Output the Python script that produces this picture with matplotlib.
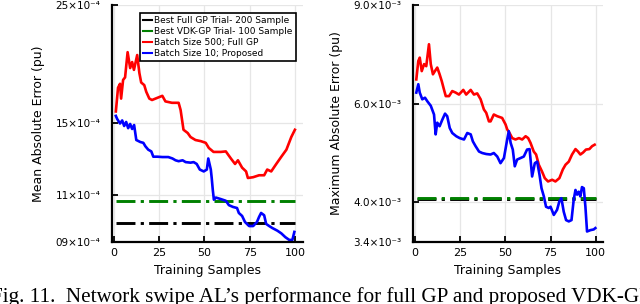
import matplotlib
matplotlib.use("Agg")
import matplotlib.pyplot as plt
from matplotlib.lines import Line2D
import numpy as np

# ---------------- data ----------------
# Left panel: Mean Absolute Error (values in pu)
mae_full_x = [1, 2.2, 3.3, 3.9, 5, 6.1, 7.5, 8.9, 10, 11, 12.8, 14, 15, 16.7, 17.8, 19.5, 21,
              26.7, 28.4, 32, 35.7, 36.8, 38.4, 40.7, 42.3, 45, 48, 50.7, 52.4, 55, 59, 61.8,
              64.6, 66.9, 68.5, 70.8, 73, 74, 76.9, 80.2, 83, 84.7, 86.9, 89.7, 92.5, 95.3, 98, 100]
mae_full_y = [15.8, 17.5, 17.8, 16.7, 18.1, 18.3, 20.4, 19.05, 19.55, 18.9, 20.15, 18.65, 17.9,
              17.7, 17.2, 16.7, 16.6, 16.9, 16.5, 16.4, 16.4, 15.9, 14.6, 14.4, 14.15, 13.97,
              13.9, 13.8, 13.5, 13.27, 13.27, 13.3, 12.9, 12.6, 12.8, 12.4, 12.2, 11.86, 11.9,
              12.0, 12.0, 12.3, 12.2, 12.6, 13.0, 13.4, 14.15, 14.6]
mae_prop_x = [1, 1.7, 3.3, 4.5, 5.6, 6.7, 7.8, 8.9, 10, 11.1, 12.3, 14.5, 16.2, 17.3, 18.9, 20.6,
              21.7, 24, 26.7, 30, 32.3, 34, 35.7, 37.9, 39.6, 42.3, 44, 45.7, 47.4, 49.6, 51.3,
              52.1, 53.5, 54, 54.6, 55.2, 56.3, 59, 61.8, 63.5, 65.7, 68, 69, 70.8, 72.4, 74.7,
              76.9, 79, 80.2, 81.3, 83, 84.1, 85.8, 87.5, 90.3, 92.5, 94.7, 96.9, 98.6, 99.7]
mae_prop_y = [15.5, 15.3, 15.0, 15.2, 14.84, 15.1, 14.7, 14.97, 14.65, 14.9, 13.97, 13.85, 13.8,
              13.6, 13.4, 13.3, 13.0, 13.0, 12.98, 12.98, 12.9, 12.8, 12.75, 12.8, 12.7, 12.67,
              12.7, 12.6, 12.3, 12.2, 12.3, 12.9, 12.3, 11.86, 11.26, 10.8, 10.9, 10.83, 10.75,
              10.55, 10.47, 10.42, 10.2, 10.07, 9.81, 9.64, 9.64, 9.81, 10.03, 10.2, 10.1, 9.73,
              9.64, 9.56, 9.45, 9.34, 9.19, 9.08, 9.08, 9.40]
mae_best_full = 9.76      # x1e-4
mae_best_vdk = 10.75      # x1e-4
mae_scale = 1e-4
mae_ticks = [9, 11, 15, 25]
mae_ticklabels = ["09×10⁻⁴", "11×10⁻⁴", "15×10⁻⁴", "25×10⁻⁴"]

# Right panel: Maximum Absolute Error (values in pu)
max_full_x = [0.7, 1.8, 2.6, 3.7, 5, 6.2, 7.7, 8.7, 9.9, 11, 12.3, 13.6, 14.8, 16, 17, 18.8, 20.6,
              22.5, 24.3, 26.7, 28.3, 30.8, 32.6, 34.4, 36.3, 38.1, 39.4, 40.9, 41.8, 43.6, 45.5,
              48.2, 50.1, 51, 52.3, 53.8, 55.6, 57.5, 59.3, 61.2, 62.6, 63.9, 65.7, 67, 68.5,
              70.3, 71.8, 73.6, 75.9, 77.7, 79.9, 81.8, 83.3, 85.1, 86.9, 88.8, 90.2, 91.5, 93,
              94.6, 96.5, 98, 99.4]
max_full_y = [6.63, 7.15, 7.25, 6.86, 7.06, 7.0, 7.66, 7.06, 6.77, 6.86, 6.96, 6.77, 6.58, 6.36,
              6.19, 6.19, 6.32, 6.28, 6.23, 6.35, 6.23, 6.35, 6.23, 6.26, 6.11, 5.86, 5.78, 5.58,
              5.58, 5.74, 5.70, 5.66, 5.51, 5.40, 5.32, 5.21, 5.18, 5.21, 5.18, 5.25, 5.21, 5.11,
              4.93, 4.87, 4.67, 4.54, 4.42, 4.36, 4.39, 4.36, 4.42, 4.58, 4.67, 4.73, 4.87, 4.98,
              4.93, 4.87, 4.91, 4.97, 4.98, 5.04, 5.07]
max_prop_x = [0.7, 1.8, 2.6, 4, 5.5, 6.8, 8.7, 10.5, 11.4, 12.3, 13.6, 15.1, 16.6, 17.8, 19.2,
              20.6, 22.8, 24.7, 27.1, 28.9, 30.8, 32, 33.5, 35.4, 37.2, 39.4, 41.8, 43.6, 45.5,
              47.3, 49.2, 51, 51.9, 52.9, 54.1, 55.2, 56.5, 58.4, 60.2, 62, 63.4, 64.8, 66.3,
              67.6, 68.9, 70, 71.3, 72.5, 74, 75, 76.8, 78.6, 79.9, 81, 82.3, 83.6, 85.1, 86.6,
              87.8, 88.8, 89.7, 90.6, 91.5, 92.4, 93.4, 94.3, 95.2, 97.1, 98.9, 99.8]
max_prop_y = [6.28, 6.50, 6.28, 6.11, 6.15, 6.06, 5.95, 5.74, 5.29, 5.55, 5.47, 5.62, 5.76, 5.70,
              5.43, 5.32, 5.25, 5.21, 5.18, 5.32, 5.29, 5.14, 5.04, 4.93, 4.90, 4.88, 4.87, 4.90,
              4.83, 4.70, 4.80, 5.18, 5.36, 5.11, 4.97, 4.64, 4.77, 4.80, 4.83, 4.97, 4.98, 4.45,
              4.70, 4.73, 4.48, 4.24, 4.10, 3.93, 3.91, 3.93, 3.80, 3.88, 4.02, 4.07, 3.85, 3.72,
              3.70, 3.72, 4.04, 4.21, 4.13, 4.18, 4.10, 4.26, 4.24, 3.93, 3.55, 3.57, 3.58, 3.60]
max_best_full = 4.065     # x1e-3
max_best_vdk = 4.08       # x1e-3
max_scale = 1e-3
max_ticks = [3.4, 4.0, 6.0, 9.0]
max_ticklabels = ["3.4×10⁻³", "4.0×10⁻³", "6.0×10⁻³", "9.0×10⁻³"]

legend_labels = ["Best Full GP Trial- 200 Sample", "Best VDK-GP Trial- 100 Sample",
                 "Batch Size 500; Full GP", "Batch Size 10; Proposed"]
xticks = [0, 25, 50, 75, 100]
caption = "Fig. 11.  Network swipe AL’s performance for full GP and proposed VDK-GP"

# ---------------- style ----------------
C_BLACK, C_GREEN, C_RED, C_BLUE = "#000000", "#008000", "#ff0000", "#0000ff"
DASHDOT = (0, (6.5, 1.8, 1.1, 1.8))

fig = plt.figure(figsize=(6.4, 3.04), dpi=100)
W, H = 640, 304


def make_axes(x0, x1, y_top, y_bot):
    return fig.add_axes([x0 / W, 1 - y_bot / H, (x1 - x0) / W, (y_bot - y_top) / H])


def style_axes(ax, ticks, ticklabels, ylim, ylabel):
    ax.set_yscale("log")
    ax.set_ylim(*ylim)
    ax.set_xlim(-1.3, 104.2)
    ax.set_xticks(xticks)
    ax.set_xticklabels([str(t) for t in xticks], fontsize=8)
    ax.yaxis.set_major_locator(matplotlib.ticker.FixedLocator(ticks))
    ax.yaxis.set_major_formatter(matplotlib.ticker.FixedFormatter(ticklabels))
    ax.yaxis.set_minor_locator(matplotlib.ticker.NullLocator())
    ax.tick_params(axis="y", labelsize=7.5)
    ax.tick_params(direction="in", length=4.5, width=1.3, pad=4.5)
    ax.tick_params(axis="y", pad=8)
    for s in ("top", "right"):
        ax.spines[s].set_visible(False)
    for s in ("left", "bottom"):
        ax.spines[s].set_linewidth(1.6)
    ax.grid(True, color="#e6e6e6", linewidth=0.9)
    ax.set_axisbelow(True)
    ax.set_xlabel("Training Samples", fontsize=9, labelpad=4)
    ax.set_ylabel(ylabel, fontsize=9)


# Left panel
axL = make_axes(111.7, 302.5, 5, 242)
sc = mae_scale
axL.plot([1, 100], [mae_best_full * sc] * 2, color=C_BLACK, lw=2.1, linestyle=DASHDOT)
axL.plot([1, 100], [mae_best_vdk * sc] * 2, color=C_GREEN, lw=2.1, linestyle=DASHDOT)
axL.plot(mae_full_x, np.array(mae_full_y) * sc, color=C_RED, lw=1.9)
axL.plot(mae_prop_x, np.array(mae_prop_y) * sc, color=C_BLUE, lw=1.9)
style_axes(axL, np.array(mae_ticks) * sc, mae_ticklabels, (9e-4, 25e-4),
           "Mean Absolute Error (pu)")
axL.yaxis.set_label_coords(-0.35, 0.5)

handles = [Line2D([], [], color=c, lw=1.5) for c in (C_BLACK, C_GREEN, C_RED, C_BLUE)]
leg = axL.legend(handles, legend_labels, loc="upper right", bbox_to_anchor=(0.965, 0.965),
                 fontsize=6.5, frameon=True, fancybox=False, framealpha=1, edgecolor="black",
                 handlelength=1.0, handletextpad=0.25, borderpad=0.35, labelspacing=0.2,
                 borderaxespad=0)
leg.get_frame().set_linewidth(1.2)

# Right panel
axR = make_axes(412.7, 603.3, 5, 242)
sc = max_scale
axR.plot([1, 100], [max_best_full * sc] * 2, color=C_BLACK, lw=2.1, linestyle=DASHDOT)
axR.plot([1, 100], [max_best_vdk * sc] * 2, color=C_GREEN, lw=2.1, linestyle=DASHDOT)
axR.plot(max_full_x, np.array(max_full_y) * sc, color=C_RED, lw=1.9)
axR.plot(max_prop_x, np.array(max_prop_y) * sc, color=C_BLUE, lw=1.9)
style_axes(axR, np.array(max_ticks) * sc, max_ticklabels, (3.4e-3, 9.0e-3),
           "Maximum Absolute Error (pu)")
axR.yaxis.set_label_coords(-0.365, 0.5)

# Caption (cropped at the right edge, as in the source image)
fig.text(-0.014, 0.008, caption, fontsize=15.2, family="Liberation Serif",
         ha="left", va="baseline")

fig.savefig("out.png", dpi=100)
